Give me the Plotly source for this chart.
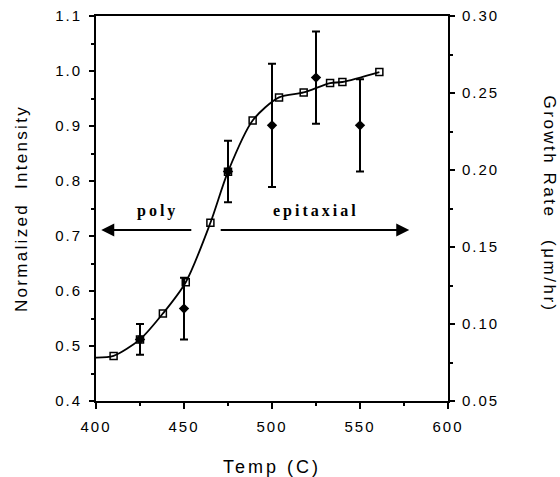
import plotly.graph_objects as go

# Normalized intensity (open squares, left axis)
temp_sq = [410, 425, 438, 451, 465, 475, 489, 504, 518, 533, 540, 561]
intensity = [0.482, 0.512, 0.559, 0.616, 0.724, 0.817, 0.910, 0.952, 0.961, 0.978, 0.980, 0.998]

# Smooth fit curve through the squares (starting at the axis)
curve_x = [400, 410, 425, 438, 451, 465, 475, 489, 504, 518, 533, 540, 561]
curve_y = [0.479, 0.482, 0.512, 0.559, 0.616, 0.724, 0.817, 0.910, 0.952, 0.961, 0.978, 0.980, 0.998]

# Growth rate (filled diamonds with error bars, right axis)
temp_gr = [425, 450, 475, 500, 525, 550]
growth = [0.090, 0.110, 0.199, 0.229, 0.260, 0.229]
growth_err = [0.010, 0.020, 0.020, 0.040, 0.030, 0.030]

# Region arrows and labels
arrow_y = 0.711
poly_arrow = [455, 403]       # tail, head
epi_arrow = [470, 578]        # tail, head
region_labels = ["poly", "epitaxial"]
region_label_x = [435, 525]
region_label_y = 0.745

left_ticks = [0.4, 0.5, 0.6, 0.7, 0.8, 0.9, 1.0, 1.1]
right_ticks = [0.05, 0.10, 0.15, 0.20, 0.25, 0.30]
x_ticks = [400, 450, 500, 550, 600]


def spaced(s, px):
    return f'<span style="letter-spacing:{px}px">{s}</span>'


fig = go.Figure()
fig.add_trace(go.Scatter(x=curve_x, y=curve_y, mode="lines",
                         line=dict(color="black", width=1.8, shape="spline", smoothing=0.8),
                         showlegend=False, hoverinfo="skip"))
fig.add_trace(go.Scatter(x=temp_sq, y=intensity, mode="markers",
                         marker=dict(symbol="square-open", size=7, color="black", line=dict(width=1.5)),
                         showlegend=False))
fig.add_trace(go.Scatter(x=temp_gr, y=growth, mode="markers", yaxis="y2",
                         marker=dict(symbol="diamond", size=8, color="black"),
                         error_y=dict(type="data", array=growth_err, color="black", thickness=2, width=4),
                         showlegend=False))

# arrows
for tail, head in (poly_arrow, epi_arrow):
    fig.add_annotation(x=head, y=arrow_y, ax=tail, ay=arrow_y,
                       xref="x", yref="y", axref="x", ayref="y", text="", showarrow=True,
                       arrowhead=2, arrowsize=1.3, arrowwidth=2, arrowcolor="black")
for lab, lx in zip(region_labels, region_label_x):
    fig.add_annotation(x=lx, y=region_label_y, xref="x", yref="y", text=spaced(lab, 3), showarrow=False,
                       font=dict(family="Liberation Serif", size=16, color="black", weight="bold"))

# right axis title (reads top to bottom)
fig.add_annotation(x=1.0, xref="paper", xshift=101, xanchor="center", y=0.5, yref="paper", yshift=5,
                   yanchor="middle",
                   text=spaced("Growth Rate&nbsp;&nbsp;&nbsp;(μm/hr)", 2.5), textangle=90, showarrow=False,
                   font=dict(family="Liberation Sans", size=17, color="black"))

tickfont = dict(family="Liberation Sans", size=15, color="black")
fig.update_layout(
    width=560, height=477,
    margin=dict(l=96, r=112, t=16, b=76, autoexpand=False),
    paper_bgcolor="white", plot_bgcolor="white",
    xaxis=dict(range=[400, 600], tickvals=x_ticks, ticktext=[spaced(str(v), 2) for v in x_ticks],
               ticks="outside", ticklen=6, tickwidth=2, automargin=False, ticklabelstandoff=5,
               showline=True, linewidth=2, linecolor="black", mirror=True, showgrid=False, zeroline=False,
               minor=dict(dtick=25, tick0=400, ticks="outside", ticklen=3, tickwidth=2, tickcolor="black"),
               tickfont=tickfont, tickcolor="black",
               title=dict(text=spaced("Temp (C)", 3), font=dict(family="Liberation Sans", size=18, color="black"),
                          standoff=27)),
    yaxis=dict(range=[0.4, 1.1], tickvals=left_ticks, ticktext=[spaced(f"{v:.1f}", 2) for v in left_ticks],
               ticks="outside", ticklen=5, tickwidth=2, automargin=False, ticklabelstandoff=4,
               showline=True, linewidth=2, linecolor="black", showgrid=False, zeroline=False,
               minor=dict(dtick=0.05, tick0=0.4, ticks="outside", ticklen=3, tickwidth=2, tickcolor="black"),
               tickfont=tickfont, tickcolor="black",
               title=dict(text=spaced("Normalized&nbsp;&nbsp;Intensity", 2.3),
                          font=dict(family="Liberation Sans", size=17, color="black"), standoff=23)),
    yaxis2=dict(range=[0.05, 0.30], tickvals=right_ticks, ticktext=[spaced(f"{v:.2f}", 2) for v in right_ticks],
                overlaying="y", side="right", automargin=False, ticklabelstandoff=4,
                ticks="outside", ticklen=5, tickwidth=2, showline=True, linewidth=2, linecolor="black",
                showgrid=False, zeroline=False,
                minor=dict(dtick=0.025, tick0=0.05, ticks="outside", ticklen=3, tickwidth=2, tickcolor="black"),
                tickfont=tickfont, tickcolor="black"),
)

fig.write_html("out.html", config={"displayModeBar": False},
               post_script="document.body.style.margin='0';")
